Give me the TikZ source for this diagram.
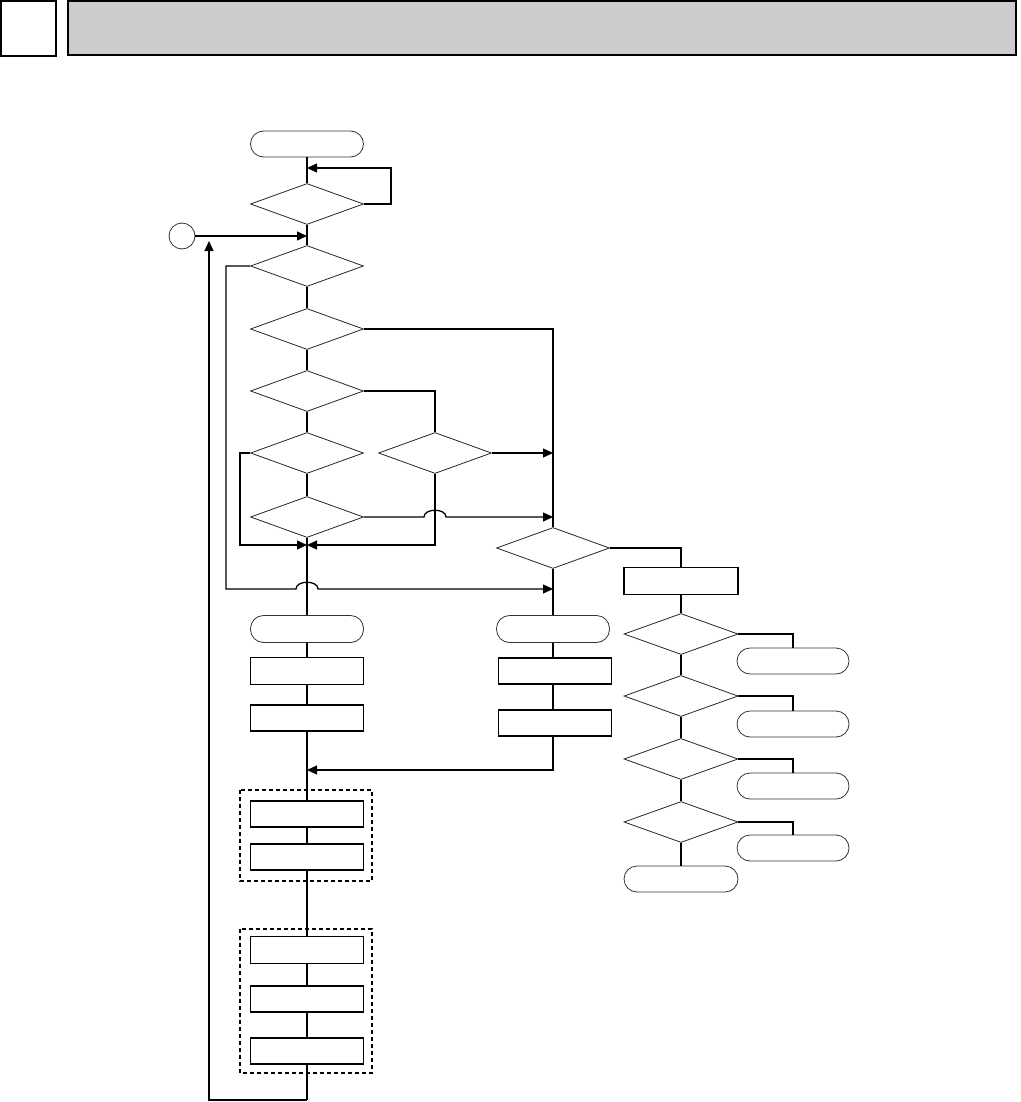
\documentclass[tikz,border=0pt]{standalone}
\usetikzlibrary{shapes.geometric,arrows.meta}
\begin{document}
\begin{tikzpicture}[x=1pt,y=-1pt,
  conn/.style={line width=1.3pt,line join=miter},
  arr/.style={conn,-{Triangle[length=10pt,width=9pt]}},
  dec/.style={draw=black!85,line width=0.8pt,shape=diamond,inner sep=0pt,minimum width=113pt,minimum height=41pt},
  term/.style={draw=black!80,line width=0.8pt,rectangle,rounded corners=13pt,inner sep=0pt,minimum width=113pt,minimum height=26pt},
  proc/.style={draw=black,line width=1.3pt,rectangle,inner sep=0pt,minimum width=113pt,minimum height=26pt},
  grp/.style={draw=black,line width=1.1pt,dash pattern=on 4pt off 3pt},
  conc/.style={draw=black!80,line width=0.8pt,circle,inner sep=0pt,minimum size=26pt}]
\useasboundingbox (0,0) rectangle (1020,1102);
% header
\draw[line width=2pt] (1,1) rectangle (56,56);
\draw[line width=2pt,fill=black!20] (68,1) rectangle (1016,55);
% main column nodes
\node[term] (start) at (307,144) {};
\node[dec] (d1) at (307,204) {};
\node[conc] (circ) at (182,236) {};
\node[dec] (d2) at (307,266) {};
\node[dec] (d3) at (307,329) {};
\node[dec] (d4) at (307,391) {};
\node[dec] (d5) at (307,453) {};
\node[dec] (d6) at (307,517) {};
\node[dec] (mid) at (435,453) {};
\node[dec] (dr) at (553,548) {};
\node[term,minimum height=27pt] (lt) at (307,629) {};
\node[proc,minimum height=27pt] (lb1) at (307,671) {};
\node[proc] (lb2) at (307,718) {};
\node[proc] (lb3) at (307,814) {};
\node[proc] (lb4) at (307,857) {};
\node[proc,minimum height=27pt] (lb5) at (307,950) {};
\node[proc] (lb6) at (307,999) {};
\node[proc] (lb7) at (307,1051) {};
\node[term,minimum height=27pt] (rt) at (553,629) {};
\node[proc] (rb1) at (555,671) {};
\node[proc] (rb2) at (555,723) {};
\node[proc,minimum width=114pt,minimum height=27pt] (bx) at (681,581) {};
\node[dec,minimum width=114pt] (e1) at (681,634) {};
\node[dec,minimum width=114pt] (e2) at (681,696) {};
\node[dec,minimum width=114pt] (e3) at (681,759) {};
\node[dec,minimum width=114pt] (e4) at (681,822) {};
\node[term,minimum width=112pt] (t1) at (793,661) {};
\node[term,minimum width=112pt] (t2) at (793,724) {};
\node[term,minimum width=112pt] (t3) at (793,786) {};
\node[term,minimum width=112pt] (t4) at (793,848) {};
\node[term,minimum width=114pt] (tend) at (681,879) {};
% dashed groups
\draw[grp] (240,790) rectangle (372,881);
\draw[grp] (240,929) rectangle (372,1073);
% coordinates
\coordinate (lp) at (391,168);
\coordinate (lpin) at (307,168);
\coordinate (cin) at (307,236);
\coordinate (bl) at (307,1100);
\coordinate (br) at (209,1100);
\coordinate (rtip) at (209,241);
\coordinate (m1) at (553,453);
\coordinate (m2) at (553,517);
\coordinate (m3) at (553,589);
\coordinate (j1a) at (424,517);
\coordinate (j1b) at (446,517);
\coordinate (j2a) at (296,589);
\coordinate (j2b) at (318,589);
\coordinate (w2a) at (226,266);
\coordinate (w2b) at (226,589);
\coordinate (w5a) at (240,453);
\coordinate (w5b) at (240,545);
\coordinate (mj) at (307,545);
\coordinate (ms) at (435,545);
\coordinate (rr) at (553,770);
\coordinate (rj) at (307,770);
% main vertical
\draw[conn] (start) -- (d1) -- (d2) -- (d3) -- (d4) -- (d5) -- (d6) -- (lt) -- (lb1) -- (lb2) -- (lb3) -- (lb4) -- (lb5) -- (lb6) -- (lb7) -- (bl);
\draw[arr] (bl) -- (br) -- (rtip);
\draw[arr] (d1.east) -| (lp) -- (lpin);
\draw[arr] (circ.east) -- (cin);
\draw[arr] (d2.west) -- (w2a) -- (w2b) -- (j2a) .. controls (296,580) and (318,580) .. (j2b) -- (m3);
\draw[conn] (d3.east) -| (dr.north);
\draw[conn] (d4.east) -| (mid.north);
\draw[arr] (mid.east) -- (m1);
\draw[arr] (d6.east) -- (j1a) .. controls (424,508) and (446,508) .. (j1b) -- (m2);
\draw[arr] (d5.west) -- (w5a) -- (w5b) -- (mj);
\draw[arr] (mid.south) -- (ms) -- (mj);
\draw[conn] (dr.south) -- (rt.north);
\draw[conn] (rt.south) -- (rt.south |- rb1.north);
\draw[conn] (rt.south |- rb1.south) -- (rt.south |- rb2.north);
\draw[arr] (rt.south |- rb2.south) -- (rr) -- (rj);
\draw[conn] (dr.east) -| (bx.north);
\draw[conn] (bx) -- (e1) -- (e2) -- (e3) -- (e4) -- (tend);
\draw[conn] (e1.east) -| (t1.north);
\draw[conn] (e2.east) -| (t2.north);
\draw[conn] (e3.east) -| (t3.north);
\draw[conn] (e4.east) -| (t4.north);
\end{tikzpicture}
\end{document}
